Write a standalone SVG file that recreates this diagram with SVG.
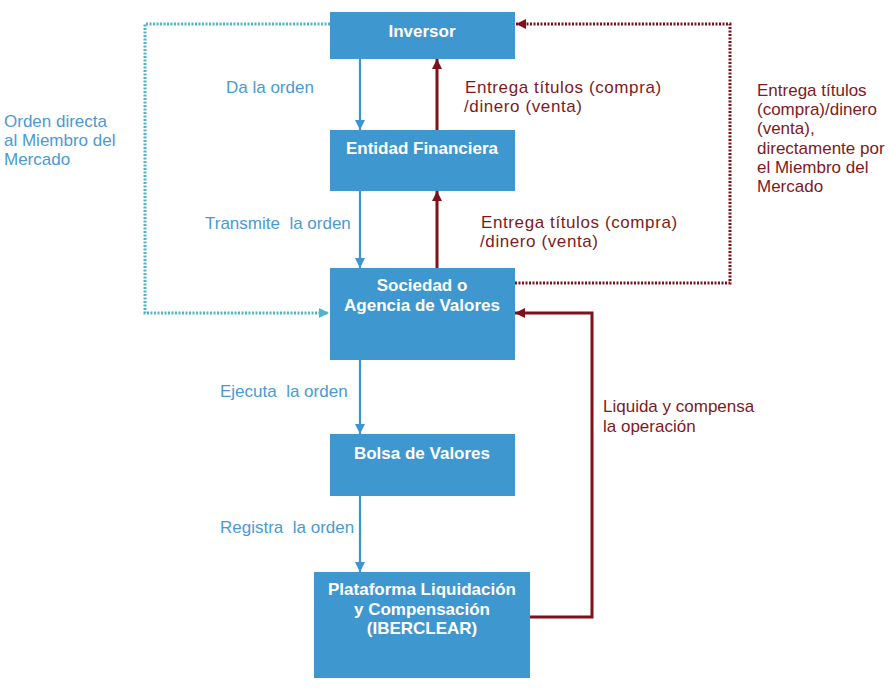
<svg xmlns="http://www.w3.org/2000/svg" width="890" height="690" viewBox="0 0 890 690">
<style>
.box{fill:#3F97D0;}
.nt{font-family:"Liberation Sans",Arial,sans-serif;font-weight:bold;font-size:17px;fill:#fff;text-anchor:middle;}
.bl{font-family:"Liberation Sans",Arial,sans-serif;font-size:17px;fill:#4A9AD4;}
.rd{font-family:"Liberation Sans",Arial,sans-serif;font-size:17px;fill:#7E1A1E;}
.ab{stroke:#3F93CF;stroke-width:2.2;fill:none;}
.ar{stroke:#7E1119;stroke-width:3;fill:none;}
.dr{stroke:#7E1119;stroke-width:3;fill:none;stroke-dasharray:2 1.5;}
.dt{stroke:#4DB5C6;stroke-width:3;fill:none;stroke-dasharray:2 1.5;}
</style>
<defs>
<marker id="mb" markerWidth="12" markerHeight="12" refX="10" refY="5" orient="auto" markerUnits="userSpaceOnUse"><path d="M0,0 L10,5 L0,10 z" fill="#3F93CF"/></marker>
<marker id="mr" markerWidth="12" markerHeight="12" refX="10" refY="5" orient="auto" markerUnits="userSpaceOnUse"><path d="M0,0 L10,5 L0,10 z" fill="#7E1119"/></marker>
<marker id="mt" markerWidth="12" markerHeight="12" refX="10" refY="5" orient="auto" markerUnits="userSpaceOnUse"><path d="M0,0 L10,5 L0,10 z" fill="#4DB5C6"/></marker>
</defs>
<rect width="890" height="690" fill="#fff"/>
<g id="connectors">
<path class="dt" d="M330,24 H145 V313 H329" marker-end="url(#mt)"/>
<path class="dr" d="M515,283 H730 V24 H516" marker-end="url(#mr)"/>
<path class="ab" d="M360,59 V130" marker-end="url(#mb)"/>
<path class="ar" d="M437,130 V59" marker-end="url(#mr)"/>
<path class="ab" d="M360,191 V268" marker-end="url(#mb)"/>
<path class="ar" d="M437,268 V191" marker-end="url(#mr)"/>
<path class="ab" d="M360,360 V434" marker-end="url(#mb)"/>
<path class="ab" d="M360,496 V572" marker-end="url(#mb)"/>
<path class="ar" d="M530,617 H592 V313 H515" marker-end="url(#mr)"/>
</g>
<g id="inversor"><rect class="box" x="330" y="12" width="185" height="47"/><text class="nt" x="422" y="37">Inversor</text></g>
<g id="entidad"><rect class="box" x="330" y="130" width="185" height="61"/><text class="nt" x="422" y="154">Entidad Financiera</text></g>
<g id="sociedad"><rect class="box" x="330" y="268" width="185" height="92"/><text class="nt" x="422" y="291">Sociedad o</text><text class="nt" x="422" y="311">Agencia de Valores</text></g>
<g id="bolsa"><rect class="box" x="330" y="434" width="185" height="62"/><text class="nt" x="422" y="459">Bolsa de Valores</text></g>
<g id="plataforma"><rect class="box" x="314" y="572" width="216" height="106"/><text class="nt" x="422" y="595">Plataforma Liquidación</text><text class="nt" x="422" y="615">y Compensación</text><text class="nt" x="422" y="634">(IBERCLEAR)</text></g>
<g id="labels">
<text class="bl" x="226" y="93">Da la orden</text>
<text class="bl" x="205" y="229" xml:space="preserve">Transmite  la orden</text>
<text class="bl" x="220" y="397" xml:space="preserve">Ejecuta  la orden</text>
<text class="bl" x="220" y="533" xml:space="preserve">Registra  la orden</text>
<text class="bl" x="4" y="127">Orden directa</text>
<text class="bl" x="4" y="146">al Miembro del</text>
<text class="bl" x="4" y="165">Mercado</text>
<text class="rd" x="465" y="93" letter-spacing="0.6">Entrega títulos (compra)</text>
<text class="rd" x="464" y="112" letter-spacing="0.6">/dinero (venta)</text>
<text class="rd" x="481" y="228" letter-spacing="0.6">Entrega títulos (compra)</text>
<text class="rd" x="480" y="247" letter-spacing="0.6">/dinero (venta)</text>
<text class="rd" x="603" y="412">Liquida y compensa</text>
<text class="rd" x="603" y="432">la operación</text>
<text class="rd" x="757" y="96">Entrega títulos</text>
<text class="rd" x="757" y="115">(compra)/dinero</text>
<text class="rd" x="757" y="134">(venta),</text>
<text class="rd" x="757" y="154">directamente por</text>
<text class="rd" x="757" y="173">el Miembro del</text>
<text class="rd" x="757" y="192">Mercado</text>
</g>
</svg>
